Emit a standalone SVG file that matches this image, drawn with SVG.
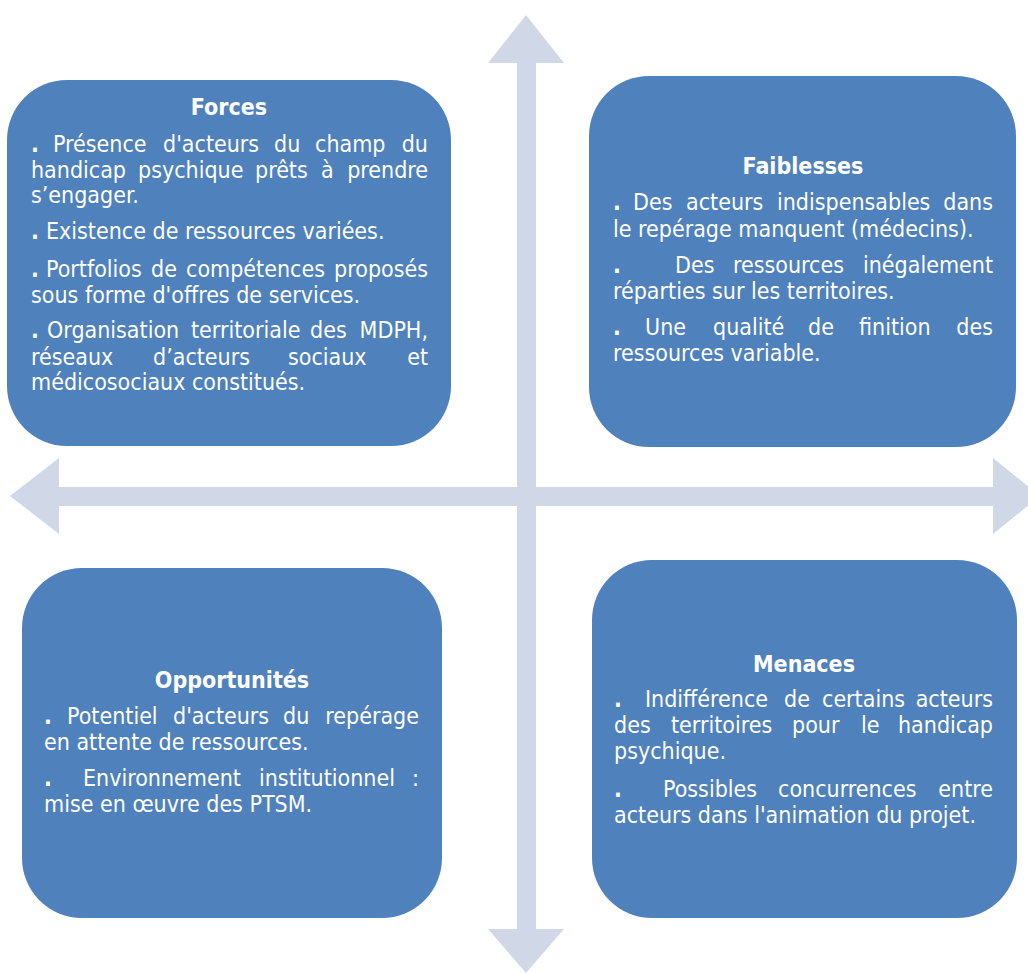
<svg xmlns="http://www.w3.org/2000/svg" width="1028" height="974" viewBox="0 0 1028 974">
<style>
.box{fill:#4F81BD}
.arr{fill:#D0D8E8}
text{font-family:"DejaVu Sans",Verdana,sans-serif;font-stretch:condensed;font-size:23px;fill:#ffffff}
.h{font-weight:bold;text-anchor:middle}
.d{font-weight:bold}
.e{text-anchor:end}
</style>
<rect width="1028" height="974" fill="#ffffff"/>
<g id="connectors">
<polygon class="arr" points="526,15 564,63 536,63 536,487 993,487 993,458 1040,496 993,534 993,506 536,506 536,929 564,929 526,973 488,929 517,929 517,506 59,506 59,534 10,496 59,458 59,487 517,487 517,63 488,63"/>
</g>
<g id="forces">
<rect class="box" x="7" y="80" width="444" height="366" rx="60" ry="60"/>
<text class="h" x="229" y="115">Forces</text>
<text y="152"><tspan class="d" x="31">.</tspan><tspan x="53">Présence</tspan><tspan x="163">d'acteurs</tspan><tspan x="274">du</tspan><tspan x="315">champ</tspan></text>
<text class="e" x="428" y="152">du</text>
<text y="178"><tspan x="31">handicap</tspan><tspan x="138">psychique</tspan><tspan x="255">prêts</tspan><tspan x="321">à</tspan></text>
<text class="e" x="428" y="178">prendre</text>
<text x="31" y="203">s’engager.</text>
<text y="239"><tspan class="d" x="31">.</tspan><tspan x="46">Existence de ressources variées.</tspan></text>
<text y="277"><tspan class="d" x="31">.</tspan><tspan x="46">Portfolios</tspan><tspan x="151">de</tspan><tspan x="186">compétences</tspan></text>
<text class="e" x="428" y="277">proposés</text>
<text x="31" y="303">sous forme d'offres de services.</text>
<text y="338"><tspan class="d" x="31">.</tspan><tspan x="47">Organisation</tspan><tspan x="191">territoriale</tspan><tspan x="310">des</tspan></text>
<text class="e" x="428" y="338">MDPH,</text>
<text y="365"><tspan x="31">réseaux</tspan><tspan x="153">d’acteurs</tspan><tspan x="288">sociaux</tspan></text>
<text class="e" x="428" y="365">et</text>
<text x="31" y="390">médicosociaux constitués.</text>
</g>
<g id="faiblesses">
<rect class="box" x="589" y="76" width="427" height="371" rx="60" ry="60"/>
<text class="h" x="803" y="174">Faiblesses</text>
<text y="210"><tspan class="d" x="613">.</tspan><tspan x="633">Des</tspan><tspan x="686">acteurs</tspan><tspan x="777">indispensables</tspan></text>
<text class="e" x="993" y="210">dans</text>
<text x="613" y="237">le repérage manquent (médecins).</text>
<text y="273"><tspan class="d" x="613">.</tspan><tspan x="675">Des</tspan><tspan x="733">ressources</tspan></text>
<text class="e" x="993" y="273">inégalement</text>
<text x="613" y="299">réparties sur les territoires.</text>
<text y="335"><tspan class="d" x="613">.</tspan><tspan x="645">Une</tspan><tspan x="713">qualité</tspan><tspan x="808">de</tspan><tspan x="859">finition</tspan></text>
<text class="e" x="993" y="335">des</text>
<text x="613" y="361">ressources variable.</text>
</g>
<g id="opportunites">
<rect class="box" x="22" y="568" width="420" height="350" rx="60" ry="60"/>
<text class="h" x="232" y="688">Opportunités</text>
<text y="724"><tspan class="d" x="44">.</tspan><tspan x="67">Potentiel</tspan><tspan x="173">d'acteurs</tspan><tspan x="283">du</tspan></text>
<text class="e" x="419" y="724">repérage</text>
<text x="44" y="750">en attente de ressources.</text>
<text y="786"><tspan class="d" x="44">.</tspan><tspan x="83">Environnement</tspan><tspan x="259">institutionnel</tspan></text>
<text class="e" x="419" y="786">:</text>
<text x="44" y="812">mise en œuvre des PTSM.</text>
</g>
<g id="menaces">
<rect class="box" x="592" y="560" width="425" height="358" rx="60" ry="60"/>
<text class="h" x="804" y="672">Menaces</text>
<text y="707"><tspan class="d" x="614">.</tspan><tspan x="645">Indifférence</tspan><tspan x="784">de</tspan><tspan x="822">certains</tspan></text>
<text class="e" x="993" y="707">acteurs</text>
<text y="733"><tspan x="614">des</tspan><tspan x="671">territoires</tspan><tspan x="792">pour</tspan><tspan x="861">le</tspan></text>
<text class="e" x="993" y="733">handicap</text>
<text x="614" y="759">psychique.</text>
<text y="797"><tspan class="d" x="614">.</tspan><tspan x="663">Possibles</tspan><tspan x="778">concurrences</tspan></text>
<text class="e" x="993" y="797">entre</text>
<text x="614" y="823">acteurs dans l'animation du projet.</text>
</g>
</svg>
